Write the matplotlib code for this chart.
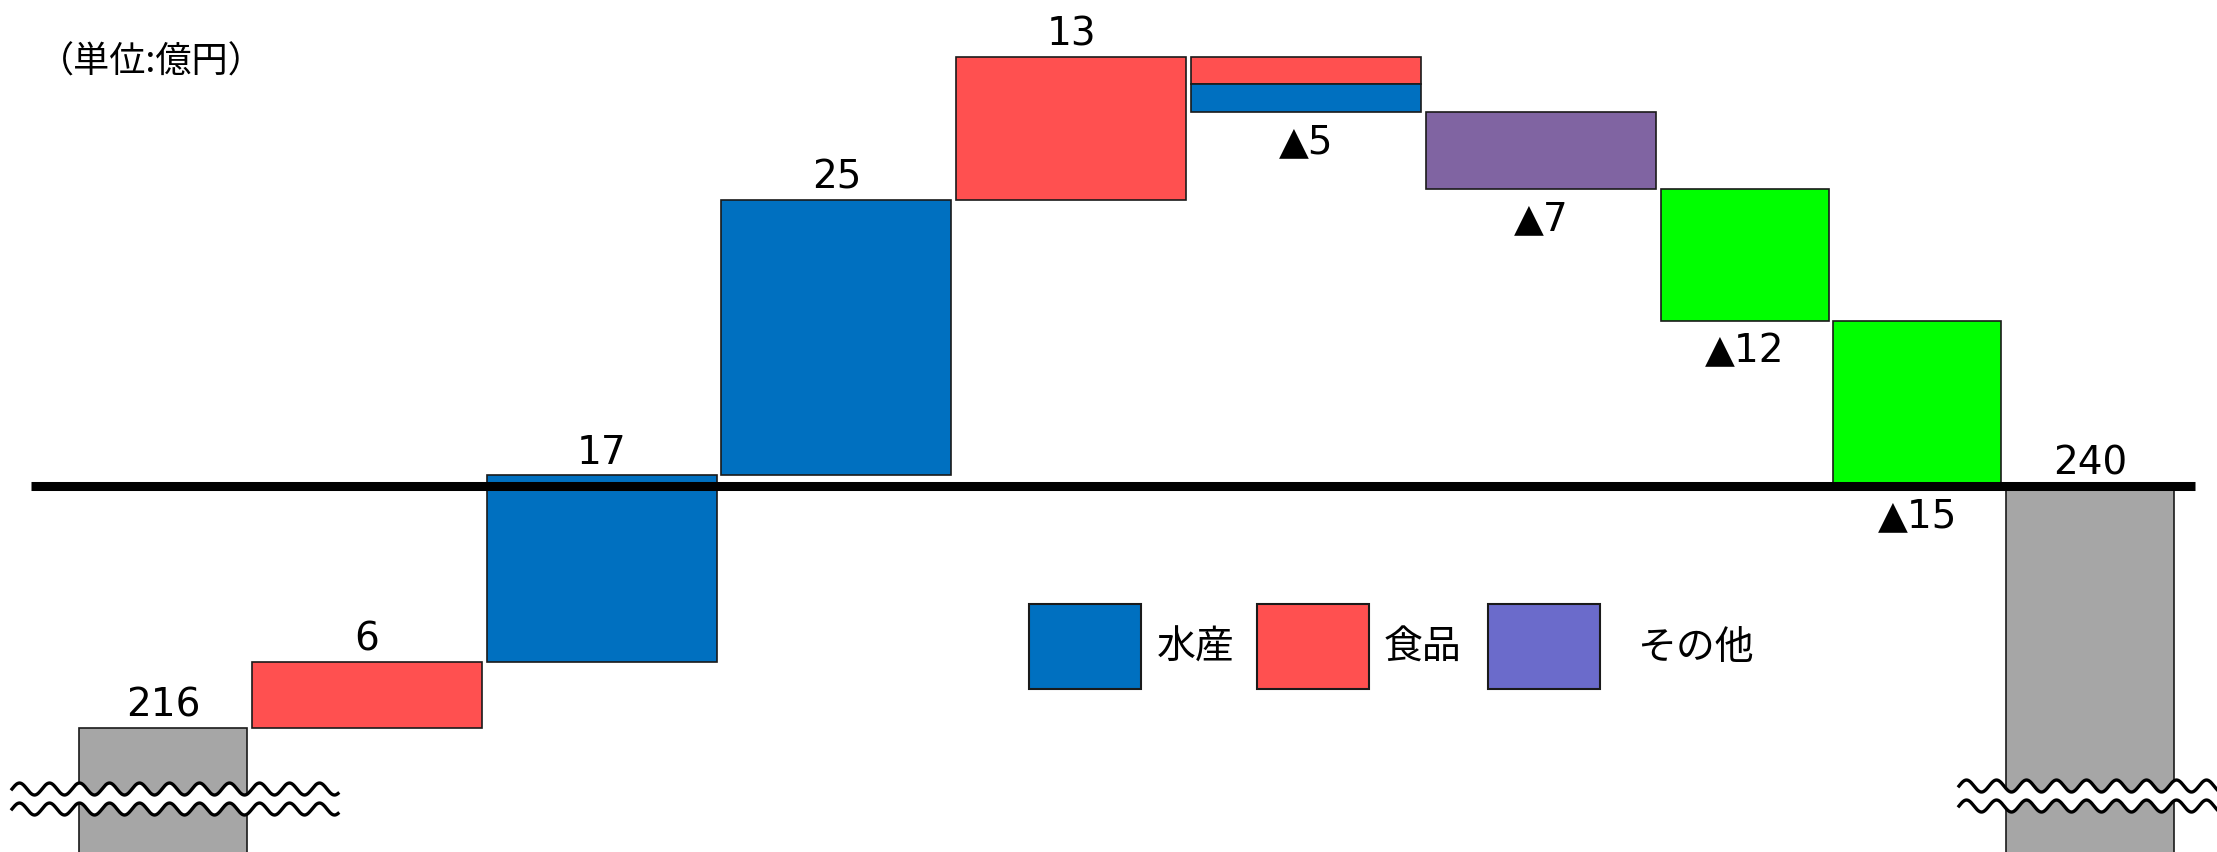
import numpy as np
import matplotlib.pyplot as plt
from matplotlib.patches import Rectangle

plt.rcParams['font.family'] = ['DejaVu Sans', 'Noto Sans CJK JP']

# Data (億円)
start_total = 216
changes = [6, 17, 25, 13, -5, -7, -12, -15]
minus5_split = [2.5, 2.5]          # 食品 (upper) / 水産 (lower) parts of ▲5
end_total = 240
legend_names = ["水産", "食品", "その他"]
unit_text = "（単位:億円）"

# Styles
BLUE, RED, PURPLE, GREEN, GRAY = "#0070C0", "#FF5050", "#8064A2", "#00FF00", "#A6A6A6"
LEGEND_PURPLE = "#6B6BCB"
change_colors = [RED, BLUE, BLUE, RED, None, PURPLE, GREEN, GREEN]
widths = [168, 230, 230, 230, 230, 230, 230, 168, 168, 168]
EDGE = "#1a1a1a"

W, H = 2217, 852
fig = plt.figure(figsize=(W / 100, H / 100), dpi=100)
ax = fig.add_axes([0, 0, 1, 1])
ax.set_xlim(0, W)
ax.set_ylim(204.73, 282.18)
ax.axis('off')

# value units -> pixel scale (11 px per 億円)
px_per_unit = 11.0
def yv(py):
    return 216 - (py - 728) / px_per_unit

def fp(x, y):
    return x / W, 1 - y / H

lefts = []
x = 79
for w in widths:
    lefts.append(x)
    x += w + 4.8

floor = 195
num_font = dict(fontsize=28, color='black', ha='center')

def label_top(xc, y, txt):
    ax.annotate(txt, (xc, y), xytext=(0, 8), textcoords='offset points',
                va='baseline', **num_font)

def label_bottom(xc, y, txt):
    ax.annotate(txt, (xc, y), xytext=(0, -30), textcoords='offset points',
                va='baseline', **num_font)

# start bar
ax.bar(lefts[0], start_total - floor, bottom=floor, width=widths[0], align='edge',
       color=GRAY, edgecolor=EDGE, linewidth=1.2, zorder=2)
label_top(lefts[0] + widths[0] / 2, start_total, str(start_total))

level = start_total
for i, ch in enumerate(changes):
    j = i + 1
    lo, hi = sorted((level, level + ch))
    xl, w = lefts[j], widths[j]
    if change_colors[i] is None:
        mid = hi - minus5_split[0]
        ax.bar(xl, hi - mid, bottom=mid, width=w, align='edge',
               color=RED, edgecolor=EDGE, linewidth=1.2, zorder=2)
        ax.bar(xl, mid - lo, bottom=lo, width=w, align='edge',
               color=BLUE, edgecolor=EDGE, linewidth=1.2, zorder=2)
    else:
        ax.bar(xl, hi - lo, bottom=lo, width=w, align='edge',
               color=change_colors[i], edgecolor=EDGE, linewidth=1.2, zorder=2)
    if ch > 0:
        label_top(xl + w / 2, hi, str(ch))
    else:
        label_bottom(xl + w / 2, lo, "▲" + str(abs(ch)))
    level += ch

# end bar hangs from the running total line
ax.bar(lefts[-1], level - floor, bottom=floor, width=widths[-1], align='edge',
       color=GRAY, edgecolor=EDGE, linewidth=1.2, zorder=2)
label_top(lefts[-1] + widths[-1] / 2, level, str(end_total))

# baseline
ax.plot([31, 2195], [level, level], color='black', lw=6.5,
        solid_capstyle='butt', zorder=6)

# break marks
def wave_break(x0, x1, y_up, y_low):
    xs = np.linspace(x0, x1, 600)
    amp = 6 / px_per_unit
    ph = np.sin(2 * np.pi * (xs - x0) / 30.0)
    up = yv(y_up) + amp * ph
    low = yv(y_low) + amp * ph
    ax.fill_between(xs, low, up, color='white', zorder=4, linewidth=0)
    ax.plot(xs, up, color='black', lw=2.4, zorder=5)
    ax.plot(xs, low, color='black', lw=2.4, zorder=5)

wave_break(12, 338, 789, 809)
wave_break(1959, 2217, 786, 806)

# unit
ax.text(*fp(38, 63), unit_text, transform=ax.transAxes, fontsize=26,
        family=['Noto Sans CJK JP'], ha='left', va='center')

# legend
leg_colors = [BLUE, RED, LEGEND_PURPLE]
box_x = [1029, 1257, 1488]
text_x = [1157, 1384, 1637]
for name, c, bx, tx in zip(legend_names, leg_colors, box_x, text_x):
    ax.add_patch(Rectangle(fp(bx, 689), 112 / W, 85 / H, transform=ax.transAxes,
                           facecolor=c, edgecolor=EDGE, linewidth=1.5, zorder=3))
    ax.text(*fp(tx, 648), name, transform=ax.transAxes, fontsize=28,
            family=['Noto Sans CJK JP'], ha='left', va='center')

fig.savefig('out.png', dpi=100)
